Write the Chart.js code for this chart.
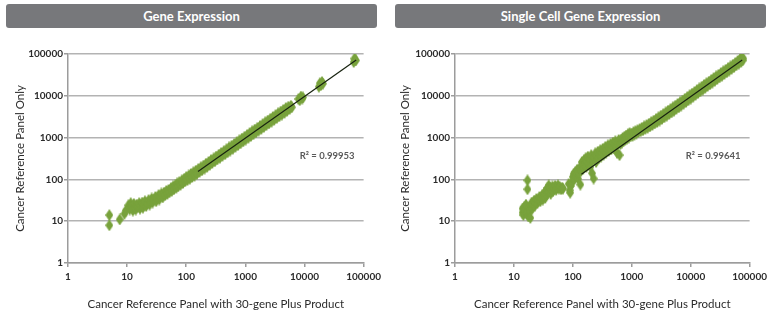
<!DOCTYPE html>
<html>
<head>
<meta charset="utf-8">
<script src="https://cdn.jsdelivr.net/npm/chart.js@4.4.0/dist/chart.umd.min.js"></script>
<style>
body { margin:0; background:#fff; width:771px; height:313px; position:relative; overflow:hidden; font-family:Lato, sans-serif; }
.box { position:absolute; top:0; }
.hdr { position:absolute; top:4px; height:24px; background:#77787b; border-radius:3px; color:#fff; font-weight:700; font-size:13px; line-height:24px; text-align:center; }
</style>
</head>
<body>
<div class="box" style="left:0"><canvas id="c1" width="385" height="313"></canvas></div>
<div class="box" style="left:385px"><canvas id="c2" width="386" height="313"></canvas></div>
<div class="hdr" style="left:6px;width:371px">Gene Expression</div>
<div class="hdr" style="left:395px;width:371px">Single Cell Gene Expression</div>
<script>
var tickVals = [1, 10, 100, 1000, 10000, 100000];

// Gene Expression
var geneX = [5, 5, 7.5, 9, 9.5, 10.5, 11, 11.5, 12, 12.5, 13, 13.5, 14, 14.5, 15, 16, 16.5, 17, 18, 18.5, 19, 20, 21, 22, 23, 24, 25, 26, 27, 28, 30, 31, 32, 34, 35, 36, 38, 40, 42, 44, 46, 48, 50, 52, 55, 57, 60, 62, 65, 68, 70, 73, 76, 80, 84, 88, 92, 96, 100, 105, 110, 115, 120, 126, 132, 138, 145, 152, 160, 168, 176, 185, 195, 205, 215, 226, 238, 250, 262, 275, 290, 305, 320, 336, 354, 372, 390, 410, 432, 455, 478, 502, 528, 555, 584, 614, 646, 680, 715, 752, 790, 830, 875, 920, 965, 1015, 1070, 1125, 1180, 1240, 1300, 1370, 1440, 1515, 1595, 1680, 1765, 1860, 1955, 2055, 2160, 2270, 2390, 2510, 2640, 2780, 2920, 3070, 3230, 3400, 3570, 3760, 3950, 4150, 4370, 4600, 4830, 5080, 5340, 5620, 5900, 6100, 7900, 8300, 8700, 9200, 9400, 17500, 18200, 19000, 19800, 20500, 68000, 70000, 74000, 72000];
var geneY = [8, 14, 11, 15, 18, 24, 19, 27, 22, 18, 26, 21, 19, 25, 22, 27, 20, 24, 28, 21, 25, 30, 23, 27, 32, 25, 30, 35, 28, 33, 38, 30, 35, 42, 33, 39, 46, 37, 48, 42, 53, 45, 56, 49, 62, 53, 68, 58, 72, 63, 80, 68, 86, 74, 95, 82, 103, 90, 114, 96, 124, 104, 135, 114, 148, 122, 162, 136, 178, 150, 195, 165, 215, 182, 238, 200, 262, 222, 290, 246, 318, 270, 352, 300, 390, 330, 430, 365, 472, 400, 525, 445, 580, 490, 640, 540, 705, 600, 780, 660, 860, 730, 950, 810, 1050, 900, 1160, 990, 1280, 1090, 1410, 1200, 1560, 1330, 1720, 1470, 1900, 1620, 2100, 1790, 2320, 1980, 2560, 2180, 2820, 2400, 3120, 2650, 3440, 2930, 3800, 3230, 4200, 3560, 4600, 3900, 5100, 4350, 5500, 4800, 5800, 5300, 8400, 7800, 9600, 8600, 9200, 16500, 20000, 18000, 21500, 19500, 64000, 78000, 70000, 73000];
var geneTrendX = [158, 75000];
var geneTrendY = [155, 72000];

// Single Cell Gene Expression
var scX = [14, 14, 14.5, 15, 15.5, 16, 16.5, 17, 17, 17.5, 18, 18.5, 19, 19.5, 20, 20.5, 21, 22, 22.5, 23, 24, 25, 26, 27, 28, 29, 30, 31, 32, 33, 34, 35, 36, 37, 38, 39, 40, 41, 42, 44, 45, 46, 48, 50, 52, 54, 56, 58, 60, 63, 66, 68,
    85, 88, 90, 93, 96, 100, 103, 106, 110, 114, 118, 122, 126, 130, 134, 138, 142, 146, 150, 155, 160, 165, 170, 175, 180, 186, 192, 198, 205, 212, 218, 225, 232, 240, 248, 256, 265, 274, 283, 292, 302, 312, 322, 333, 344, 356, 368, 380, 393, 406, 420, 434, 448, 463, 478, 494, 510, 527, 545, 563, 580, 600, 620, 640, 660, 680, 700, 725, 750, 775, 800, 830, 860, 890, 920, 955,
    990, 1030, 1070, 1110, 1150, 1200, 1250, 1300, 1360, 1420, 1480, 1550, 1620, 1700, 1780, 1860, 1950, 2040, 2140, 2240, 2350, 2460, 2580, 2700, 2830, 2970, 3110, 3260, 3420, 3580, 3750, 3930, 4120, 4320, 4530, 4750, 4980, 5220, 5470, 5730, 6000, 6290, 6590, 6910, 7240, 7590, 7950, 8330, 8730, 9150, 9590, 10050, 10530, 11040, 11570, 12130, 12710, 13320, 13960, 14630, 15330, 16070, 16840, 17650, 18500, 19390, 20320, 21300, 22320, 23390, 24510, 25690, 26920, 28210, 29570, 30990, 32480, 34040, 35670, 37380, 39180, 41060, 43030, 45100, 47260, 49530, 51910, 54400, 57010, 59750, 62620, 65620, 68770, 72070, 74000, 76000, 78000];
var scY = [20, 16, 14, 22, 18, 25, 15, 95, 58, 13, 21, 17, 12, 24, 28, 20, 25, 31, 23, 28, 34, 27, 32, 38, 30, 36, 42, 33, 39, 46, 36, 55, 44, 62, 48, 72, 52, 64, 45, 58, 68, 52, 62, 70, 56, 65, 72, 60, 66, 58, 64, 60,
    78, 55, 48, 70, 85, 115, 135, 100, 150, 120, 170, 105, 140, 190, 75, 160, 260, 210, 180, 290, 230, 320, 200, 270, 350, 240, 310, 200, 380, 140, 290, 105, 340, 420, 260, 380, 460, 320, 400, 500, 350, 430, 540, 390, 480, 600, 440, 520, 650, 480, 580, 700, 520, 640, 760, 570, 700, 820, 610, 430, 760, 880, 380, 700, 900, 760, 980, 820, 1050, 880, 1120, 950, 1200, 1000, 1280, 1080,
    1250, 1100, 1350, 1180, 1420, 1250, 1500, 1350, 1600, 1420, 1720, 1500, 1850, 1620, 2000, 1720, 2150, 1850, 2350, 2000, 2550, 2180, 2780, 2350, 3050, 2560, 3350, 2800, 3650, 3050, 4000, 3350, 4400, 3650, 4800, 4000, 5300, 4400, 5800, 4850, 6400, 5300, 7000, 5850, 7700, 6450, 8500, 7100, 9300, 7800, 10300, 8600, 11300, 9500, 12400, 10500, 13700, 11600, 15000, 12800, 16500, 14100, 18200, 15500, 20000, 17100, 21800, 18800, 24000, 20700, 26500, 22800, 29000, 25000, 31800, 27500, 35000, 30200, 38400, 33200, 42000, 36500, 46000, 40200, 50500, 44000, 55500, 48500, 61000, 53500, 68000, 59000, 76000, 65000, 82000, 70000, 78000];
var scTrendX = [140, 75000];
var scTrendY = [132, 72000];

var labelPos = [70000, 355];

var green = '#78a23c';
var gridColor = '#b3b3b3';
var axisColor = '#9c9c9c';
var textColor = '#2b2b2b';

// tall diamond marker
var diamond = document.createElement('canvas');
diamond.width = 8;
diamond.height = 12;
(function () {
    var c = diamond.getContext('2d');
    c.fillStyle = green;
    c.beginPath();
    c.moveTo(4, 0);
    c.lineTo(8, 6);
    c.lineTo(4, 12);
    c.lineTo(0, 6);
    c.closePath();
    c.fill();
})();

var r2Label = {
    id: 'r2Label',
    afterDatasetsDraw: function (chart, args, opts) {
        var ctx = chart.ctx;
        var x = chart.scales.x.getPixelForValue(labelPos[0]);
        var y = chart.scales.y.getPixelForValue(labelPos[1]);
        ctx.save();
        ctx.font = 'bold 9.5px Lato';
        ctx.fillStyle = '#5a5a5a';
        ctx.textAlign = 'right';
        ctx.textBaseline = 'middle';
        ctx.fillText(opts.text, x, y);
        ctx.restore();
    }
};

function setTicks(scale) {
    scale.ticks = tickVals.map(function (v) { return { value: v }; });
}

function makeChart(id, xs, ys, tx, ty, r2, axisW, padRight) {
    var pts = xs.map(function (x, i) { return { x: x, y: ys[i] }; });
    var trend = tx.map(function (x, i) { return { x: x, y: ty[i] }; });
    return new Chart(document.getElementById(id), {
        type: 'scatter',
        data: {
            datasets: [
                { type: 'line', data: trend, borderColor: '#17220f', borderWidth: 1.2, pointRadius: 0, fill: false },
                { data: pts, pointStyle: diamond, backgroundColor: green, borderWidth: 0 }
            ]
        },
        options: {
            responsive: false,
            animation: false,
            layout: { padding: { top: 54, right: padRight, left: 0, bottom: 0 } },
            plugins: {
                legend: { display: false },
                tooltip: { enabled: false },
                r2Label: { text: r2 }
            },
            scales: {
                x: {
                    type: 'logarithmic',
                    min: 1,
                    max: 100000,
                    afterBuildTicks: setTicks,
                    afterFit: function (s) { s.height = 50; },
                    border: { color: axisColor, width: 1.5 },
                    grid: { drawOnChartArea: false, drawTicks: true, tickLength: 4, color: axisColor, lineWidth: 1.5 },
                    ticks: {
                        padding: 4,
                        color: textColor,
                        font: { family: 'Lato', weight: 'bold', size: 10 },
                        callback: function (v) { return String(v); }
                    },
                    title: {
                        display: true,
                        text: 'Cancer Reference Panel with 30-gene Plus Product',
                        color: textColor,
                        font: { family: 'Lato', size: 11.5 },
                        padding: { top: 0, bottom: 2 }
                    }
                },
                y: {
                    type: 'logarithmic',
                    min: 1,
                    max: 100000,
                    afterBuildTicks: setTicks,
                    afterFit: function (s) { s.width = axisW; },
                    border: { color: axisColor, width: 1.5 },
                    grid: { color: gridColor, lineWidth: 1.5, tickLength: 4, tickColor: axisColor },
                    ticks: {
                        padding: 1,
                        color: textColor,
                        font: { family: 'Lato', weight: 'bold', size: 10 },
                        callback: function (v) { return String(v); }
                    },
                    title: {
                        display: true,
                        text: 'Cancer Reference Panel Only',
                        color: textColor,
                        font: { family: 'Lato', size: 11.5 },
                        padding: { top: 13, bottom: 0 }
                    }
                }
            }
        },
        plugins: [r2Label]
    });
}

makeChart('c1', geneX, geneY, geneTrendX, geneTrendY, 'R\u00b2 = 0.99953', 68, 17);
makeChart('c2', scX, scY, scTrendX, scTrendY, 'R\u00b2 = 0.99641', 70, 16);
</script>
</body>
</html>
